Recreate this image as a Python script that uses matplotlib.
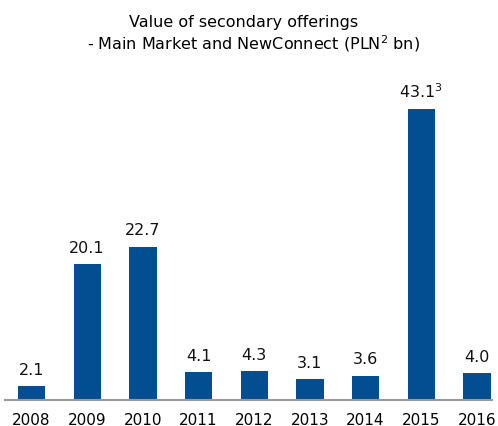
import matplotlib
matplotlib.use("Agg")
import matplotlib.pyplot as plt

years = ["2008", "2009", "2010", "2011", "2012", "2013", "2014", "2015", "2016"]
values = [2.1, 20.1, 22.7, 4.1, 4.3, 3.1, 3.6, 43.1, 4.0]
value_labels = ["2.1", "20.1", "22.7", "4.1", "4.3", "3.1", "3.6", "43.1$^3$", "4.0"]

plt.rcParams["font.family"] = "DejaVu Sans"
plt.rcParams["mathtext.default"] = "regular"

fig = plt.figure(figsize=(4.98, 4.26), dpi=100)
ax = fig.add_axes([0.01, 0.061, 0.978, 0.775])

x = list(range(len(years)))
ax.bar(x, values, width=0.49, color="#034e91")

for xi, v, lab in zip(x, values, value_labels):
    ax.annotate(lab, (xi, v), xytext=(0, 6), textcoords="offset points",
                ha="center", va="bottom", fontsize=11.5, color="#111111")

ax.set_xlim(-0.476, 8.27)
ax.set_ylim(0, 48.9)
ax.set_xticks(x)
ax.set_xticklabels(years, fontsize=11)
ax.tick_params(axis="x", length=0, pad=9)
ax.set_yticks([])
for s in ["top", "right", "left"]:
    ax.spines[s].set_visible(False)
ax.spines["bottom"].set_color("#999999")
ax.spines["bottom"].set_linewidth(1.5)

fig.text(0.49, 0.948, "Value of secondary offerings", ha="center", va="center", fontsize=11.5)
fig.text(0.508, 0.898, "- Main Market and NewConnect (PLN$^2$ bn)", ha="center", va="center", fontsize=11.5)

fig.savefig("out.png", dpi=100)
